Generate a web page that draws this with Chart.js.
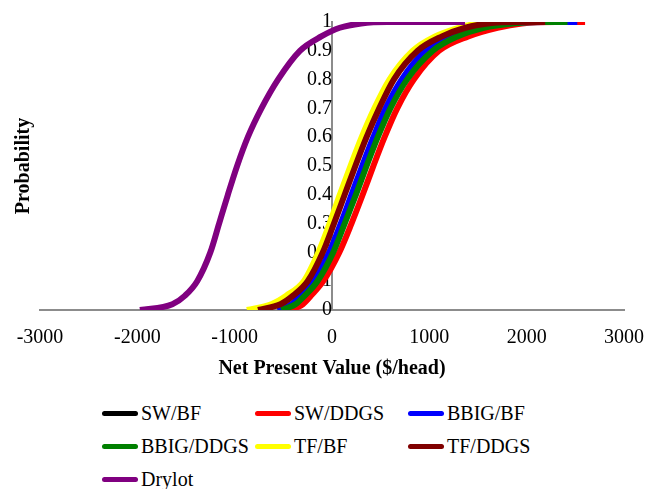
<!DOCTYPE html>
<html>
<head>
<meta charset="utf-8">
<script src="https://cdn.jsdelivr.net/npm/chart.js@4.4.1/dist/chart.umd.min.js"></script>
<style>
  body { margin: 0; background: #fff; }
  #wrap { position: relative; width: 653px; height: 489px; }
  #myChart { position: absolute; left: 0; top: 0; }
  #legend {
    position: absolute; left: 102px; top: 397px;
    display: grid; grid-template-columns: repeat(3, 153px); grid-auto-rows: 33px;
    font-family: 'Liberation Serif', 'Times New Roman', serif; font-size: 20px; color: #000;
  }
  .item { display: flex; align-items: center; white-space: nowrap; }
  .swatch { width: 36px; height: 5px; border-radius: 3px; margin-right: 3px; }
</style>
</head>
<body>
<div id="wrap">
  <canvas id="myChart" width="653" height="385"></canvas>
  <div id="legend"></div>
</div>
<script>
// cumulative probability levels, shared by every series
var probs = [0, 0.02, 0.05, 0.1, 0.2, 0.3, 0.4, 0.5, 0.6, 0.7, 0.8, 0.9, 0.95, 0.98, 0.995, 1, 1];

// net present value ($/head) at each probability level
var swBF     = [-540, -395, -310, -175, -10, 110, 220, 330, 445, 570, 735, 980, 1220, 1500, 1750, 1850, 1920];
var swDDGS   = [-430, -300, -215, -90, 75, 200, 315, 425, 540, 670, 840, 1100, 1400, 1700, 1950, 2300, 2600];
var bbigBF   = [-560, -415, -330, -195, -30, 90, 200, 310, 425, 550, 715, 960, 1200, 1480, 1800, 2200, 2520];
var bbigDDGS = [-520, -375, -280, -150, 12, 130, 245, 355, 470, 600, 770, 1035, 1290, 1560, 1850, 2150, 2420];
var tfBF     = [-874, -625, -470, -290, -140, -25, 80, 190, 305, 435, 590, 830, 1060, 1300, 1500, 1650, 1727];
var tfDDGS   = [-760, -530, -400, -250, -95, 20, 130, 240, 355, 485, 635, 880, 1130, 1370, 1600, 1900, 2190];
var drylot   = [-1973, -1640, -1510, -1385, -1250, -1160, -1070, -975, -865, -725, -555, -330, -110, 80, 300, 565, 1367];

var names = ["SW/BF", "SW/DDGS", "BBIG/BF", "BBIG/DDGS", "TF/BF", "TF/DDGS", "Drylot"];
var series = [swBF, swDDGS, bbigBF, bbigDDGS, tfBF, tfDDGS, drylot];
var colors = ["#000000", "#ff0000", "#0000ff", "#008000", "#ffff00", "#800000", "#800080"];

var font = "'Liberation Serif', 'Times New Roman', serif";
Chart.defaults.font.family = font;
Chart.defaults.color = "#000";

var datasets = series.map(function (vals, i) {
    return {
        label: names[i],
        data: vals.map(function (v, j) { return { x: v, y: probs[j] }; }),
        borderColor: colors[i],
        backgroundColor: colors[i],
        borderWidth: 6,
        pointRadius: 0,
        showLine: true,
        cubicInterpolationMode: "monotone",
        yAxisID: "y",
        order: series.length - i   // later series drawn on top, like the original
    };
});

new Chart("myChart", {
    type: "scatter",
    data: { datasets: datasets },
    options: {
        responsive: false,
        animation: false,
        layout: { padding: { left: 8, right: 29, top: 22, bottom: 0 } },
        plugins: { legend: { display: false }, tooltip: { enabled: false } },
        scales: {
            x: {
                type: "linear", min: -3000, max: 3000,
                grid: { display: false, drawTicks: false },
                border: { display: true, color: "#8c8c8c", width: 2 },
                ticks: {
                    stepSize: 1000, padding: 9, font: { size: 20, lineHeight: 1.9 },
                    callback: function (v) { return String(v); }
                },
                title: { display: true, text: "Net Present Value ($/head)", font: { size: 20, weight: "bold" }, padding: { top: -9, bottom: 4 } }
            },
            yTitle: {
                type: "linear", position: "left", axis: "y",
                grid: { display: false, drawTicks: false },
                border: { display: false },
                ticks: { display: false },
                title: { display: true, text: "Probability", font: { size: 20, weight: "bold" } }
            },
            y: {
                type: "linear", min: 0, max: 1, position: { x: 0 },
                grid: { display: false, drawTicks: false },
                border: { display: true, color: "#8c8c8c", width: 2 },
                ticks: {
                    stepSize: 0.1, padding: 4, font: { size: 20 },
                    callback: function (v) { return String(Math.round(v * 10) / 10); }
                }
            }
        }
    }
});

// legend laid out in three columns as in the original
var legend = document.getElementById("legend");
names.forEach(function (n, i) {
    var item = document.createElement("div");
    item.className = "item";
    item.innerHTML = '<span class="swatch" style="background:' + colors[i] + '"></span>' + n;
    legend.appendChild(item);
});
</script>
</body>
</html>
